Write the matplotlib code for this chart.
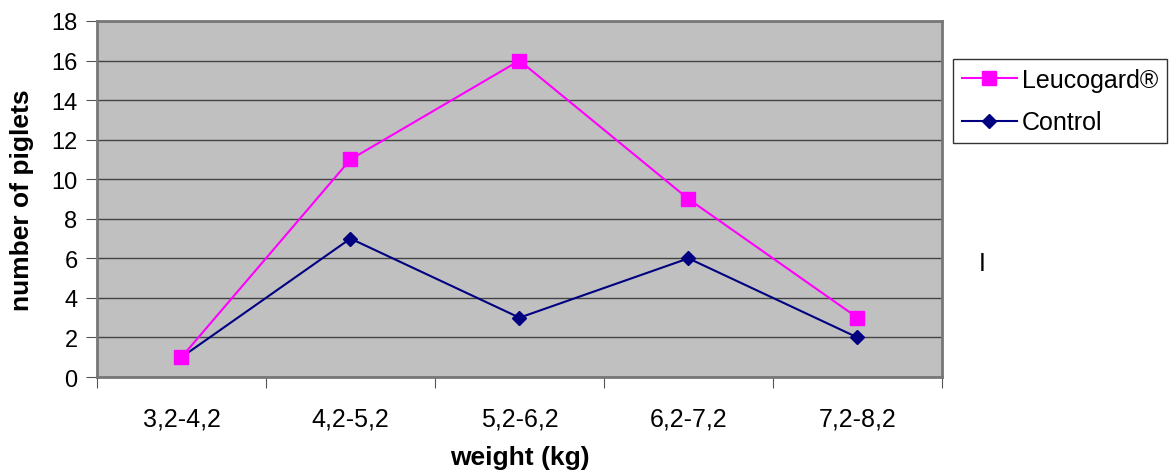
import numpy as np
import matplotlib
matplotlib.use("Agg")
import matplotlib.pyplot as plt

plt.rcParams['font.family'] = ['Liberation Sans', 'DejaVu Sans']

categories = ['3,2-4,2', '4,2-5,2', '5,2-6,2', '6,2-7,2', '7,2-8,2']
leucogard = [1, 11, 16, 9, 3]
control = [1, 7, 3, 6, 2]

fig = plt.figure(figsize=(11.71, 4.77), dpi=100)
ax = fig.add_axes([0.0828, 0.2075, 0.7216, 0.7464])
ax.set_facecolor('#C0C0C0')

x = np.arange(len(categories))
ax.plot(x, control, color='#000080', marker='D', markersize=7, linewidth=1.5,
        label='Control', zorder=3)
ax.plot(x, leucogard, color='#FF00FF', marker='s', markersize=10, linewidth=1.5,
        label='Leucogard®', zorder=4)

ax.set_xlim(-0.5, len(categories) - 0.5)
ax.set_ylim(0, 18)
ax.set_yticks(range(0, 19, 2))
ax.set_xticks(np.arange(-0.5, len(categories), 1.0))
ax.set_xticklabels([])
ax.set_xticks(x, minor=True)
ax.set_xticklabels(categories, minor=True)
ax.tick_params(axis='x', which='minor', length=0, pad=21, labelsize=18)
ax.tick_params(axis='x', which='major', length=8, color='#555555', direction='out')
ax.tick_params(axis='y', length=8, color='#555555', labelsize=17, pad=6)

ax.yaxis.grid(True, color='#444444', linewidth=1)
ax.set_axisbelow(True)
for s in ax.spines.values():
    s.set_color('#777777')
    s.set_linewidth(2)

ax.set_xlabel('weight (kg)', fontsize=19, fontweight='bold', labelpad=11)
ax.set_ylabel('number of piglets', fontsize=19, fontweight='bold', labelpad=12)

h, l = ax.get_legend_handles_labels()
leg = fig.legend(h[::-1], l[::-1], loc='upper left',
                 bbox_to_anchor=(953 / 1171, 1 - 60 / 477), fontsize=18,
                 frameon=True, fancybox=False, borderpad=0.35, borderaxespad=0,
                 handlelength=2.2, handletextpad=0.2, labelspacing=0.75)
leg.get_frame().set_edgecolor('black')
leg.get_frame().set_linewidth(1)

fig.text(979 / 1171, 1 - 264 / 477, 'I', fontsize=18, va='center', ha='left')

fig.savefig('out.png', dpi=100)
